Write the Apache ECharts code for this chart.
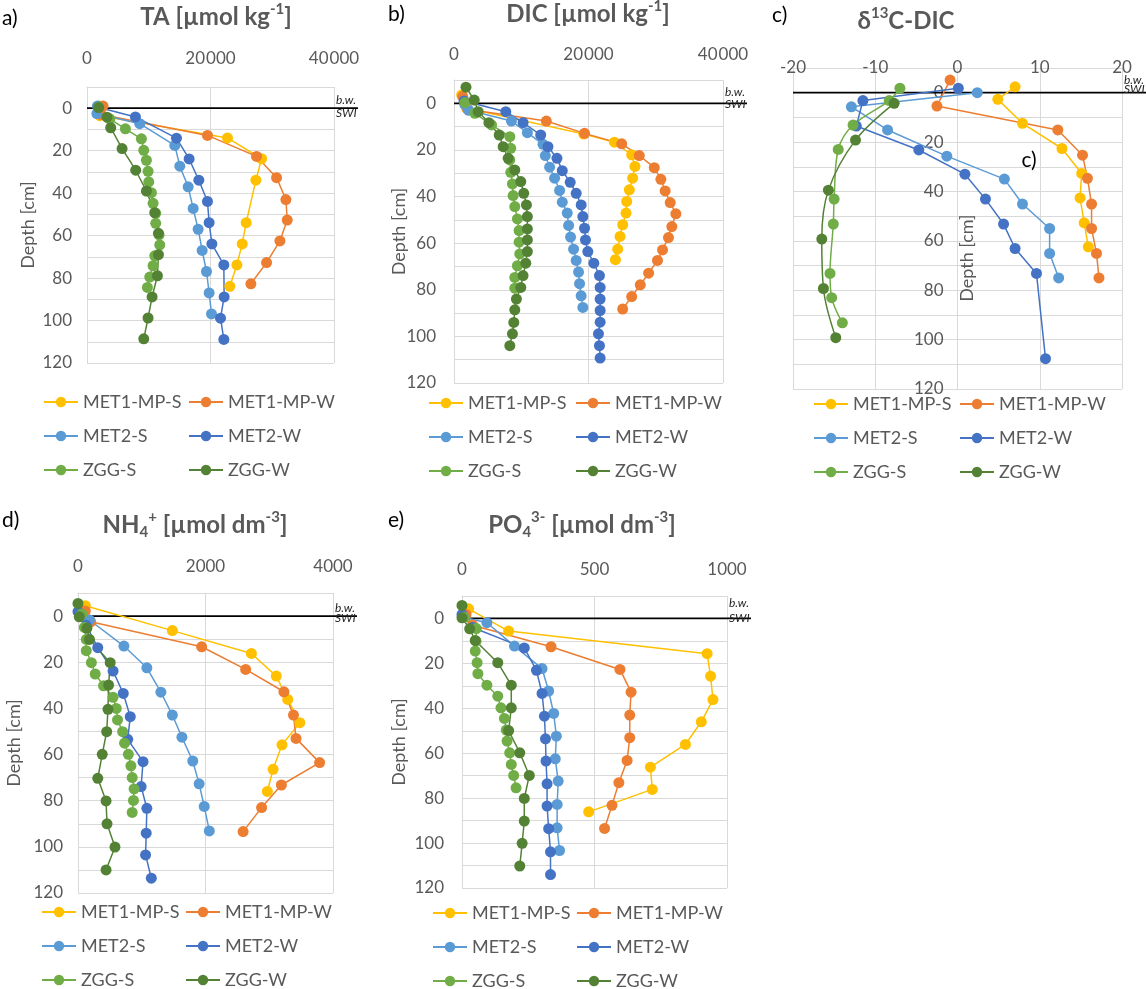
<!DOCTYPE html>
<html>
<head>
<meta charset="utf-8">
<title>Depth profiles</title>
<script src="https://cdn.jsdelivr.net/npm/echarts@6/dist/echarts.min.js"></script>
<style>
    html, body { margin: 0; padding: 0; background: #fff; }
    #main { width: 1146px; height: 989px; }
</style>
</head>
<body>
<div id="main"></div>
<script type="text/javascript">
var seriesNames = ['MET1-MP-S', 'MET1-MP-W', 'MET2-S', 'MET2-W', 'ZGG-S', 'ZGG-W'];
var seriesColors = ['#FFC000', '#ED7D31', '#5B9BD5', '#4472C4', '#70AD47', '#548235'];
var font = 'Lato';

// a) TA  [value, depth]
var taMet1S = [[2000, -1], [2100, 3.5], [22750, 14], [28270, 23.8], [27350, 33.9], [25780, 53.9], [25130, 63.9], [24270, 73.8], [23130, 83.9]];
var taMet1W = [[2600, -1], [2300, 3], [19510, 12.8], [27460, 22.7], [30700, 32.7], [32210, 43], [32430, 52.7], [31240, 62.5], [29080, 72.7], [26540, 82.7]];
var taMet2S = [[1700, -1], [1600, 2.5], [8540, 7.3], [14215, 17.5], [15030, 27.3], [16380, 37], [17190, 47.2], [18000, 57], [18650, 67], [19350, 76.9], [19780, 87], [20160, 96.9]];
var taMet2W = [[1800, -0.5], [7840, 4.1], [14490, 14.1], [16540, 23.9], [18110, 33.9], [19510, 43.9], [19780, 53.9], [20220, 63.9], [22160, 73.8], [22210, 88.9], [21620, 98.9], [22160, 108.9]];
var taZggS = [[1900, -0.5], [3680, 5], [6220, 9.7], [8810, 14.4], [9190, 19.8], [9620, 24.5], [9890, 29.7], [10000, 34.7], [10430, 39.8], [10700, 44.8], [11130, 49.5], [11130, 54.2], [11675, 59.7], [11780, 64.4], [10970, 69.5], [10700, 74.2], [10160, 79.5], [9780, 84.4]];
var taZggW = [[1890, -0.3], [3240, 4.2], [3840, 9.2], [5680, 19], [7890, 29.2], [9620, 39], [10970, 49.2], [11570, 58.9], [11570, 69], [11400, 78.9], [10540, 88.9], [9890, 98.8], [9190, 108.6]];

// b) DIC
var dicMet1S = [[1140, -3.6], [1900, 2.1], [19300, 13.2], [23850, 16.7], [26420, 22.1], [26910, 27.1], [26570, 32.1], [26070, 37.1], [25680, 42.1], [25580, 47.1], [25090, 52.1], [24690, 57.1], [24340, 62.6], [24000, 67.1]];
var dicMet1W = [[1300, -2.9], [2000, 2.5], [13730, 7.6], [19410, 12.9], [24940, 17.4], [27550, 22.4], [29780, 27.6], [30760, 32.6], [31400, 37.6], [32150, 42.6], [32990, 47.4], [32390, 52.9], [31890, 57.6], [31010, 62.9], [30260, 67.4], [28940, 72.9], [27700, 77.9], [26420, 82.9], [25080, 88.3]];
var dicMet2S = [[1600, 0.5], [2200, 3], [8540, 7.6], [10910, 12.6], [13230, 17.6], [13580, 22.4], [14220, 27.4], [14960, 32.1], [15700, 37.4], [16100, 42.4], [16840, 47.1], [17040, 52.4], [17330, 57.4], [17780, 62.6], [18170, 67.4], [18520, 72.4], [18670, 77.4], [18910, 82.6], [19160, 87.6]];
var dicMet2W = [[1500, -1], [7700, 3.6], [10270, 8.3], [12890, 13.6], [13970, 18.6], [15310, 23.6], [16100, 28.9], [17280, 33.9], [18170, 38.6], [18910, 43.6], [19160, 48.6], [19410, 53.6], [19550, 58.6], [19900, 63.6], [20790, 68.6], [21630, 73.9], [21730, 79], [21730, 84], [21730, 88.9], [21730, 93.9], [21480, 98.9], [21630, 104], [21730, 109.3]];
var dicZggS = [[1630, -0.3], [3110, 4.3], [5580, 9.3], [8300, 14.3], [8440, 19.3], [8300, 24.3], [8440, 29.6], [8690, 34.6], [8790, 39.6], [9040, 44.3], [9430, 49.6], [9680, 54.6], [9680, 59.6], [9780, 64.6], [9430, 69.7], [9040, 74.7], [9040, 79.3]];
var dicZggW = [[1780, -6.9], [3010, -1.4], [3600, 3.6], [5190, 8.3], [6720, 13.6], [7310, 18.6], [8050, 23.6], [9040, 28.6], [9930, 33.6], [10370, 38.6], [10770, 43.6], [10910, 48.6], [10910, 53.9], [10910, 58.6], [10910, 63.6], [10670, 68.6], [10270, 73.9], [9930, 79], [9280, 84], [9040, 88.6], [8890, 94], [8690, 98.9], [8300, 104]];

// c) d13C-DIC
var d13Met1S = [[7.0, -2.4], [4.9, 2.7], [7.9, 12.4], [12.7, 22.6], [15.1, 32.7], [14.9, 42.6], [15.4, 52.7], [15.9, 62.4]];
var d13Met1W = [[-0.9, -5.1], [-2.5, 5.4], [12.2, 15.1], [15.2, 25.3], [15.8, 34.7], [16.3, 45.1], [16.3, 55], [16.9, 65.1], [17.2, 75]];
var d13Met2S = [[2.4, 0], [-12.9, 5.7], [-8.5, 15.1], [-1.3, 25.7], [5.7, 35], [7.9, 45.1], [11.2, 55], [11.2, 65.1], [12.3, 75]];
var d13Met2W = [[0.1, -1.8], [-11.5, 3.2], [-12.3, 13.5], [-4.7, 23.2], [0.9, 33], [3.4, 43.1], [5.6, 53.2], [7.0, 63.1], [9.6, 73.2], [10.7, 107.7]];
var d13ZggS = [[-7.0, -1.8], [-8.3, 3.2], [-12.7, 13.1], [-14.5, 23], [-15.0, 43.1], [-15.1, 53.2], [-15.5, 73.2], [-15.3, 83], [-14.0, 93.2]];
var d13ZggW = [[-7.7, 4.3], [-12.4, 19.2], [-15.7, 39.5], [-16.5, 59.3], [-16.3, 79.3], [-14.8, 99.2]];

// d) NH4+
var nhMet1S = [[115, -4.5], [1480, 6.3], [2720, 16.2], [3110, 26], [3290, 36.1], [3480, 46.2], [3200, 55.8], [3060, 66.4], [2970, 76]];
var nhMet1W = [[115, -2.2], [200, 2.5], [1940, 13.3], [2630, 23.1], [3230, 32.8], [3380, 42.9], [3420, 53], [3790, 63.5], [3190, 73.2], [2880, 83], [2590, 93.4]];
var nhMet2S = [[30, -1], [180, 1.7], [720, 13], [1080, 22.4], [1300, 33], [1480, 42.9], [1630, 52.5], [1800, 62.8], [1900, 72.7], [1980, 82.5], [2060, 93.1]];
var nhMet2W = [[0, -1.9], [130, 4], [310, 13.7], [550, 23.8], [710, 33.5], [820, 43.6], [780, 53.4], [1020, 63.1], [990, 73.9], [1080, 83.3], [1070, 94.1], [1060, 103.5], [1150, 113.6]];
var nhZggS = [[60, -0.9], [100, 4.9], [130, 10.1], [130, 15], [210, 20.2], [270, 25.1], [400, 30.2], [550, 35.2], [600, 40], [620, 45], [700, 50.1], [730, 55.1], [790, 59.9], [830, 64.9], [850, 70], [880, 74.9], [870, 79.9], [850, 85.1]];
var nhZggW = [[0, -5.5], [20, 0.3], [140, 5.3], [180, 10.1], [505, 20.2], [480, 29.9], [470, 40.4], [450, 50.1], [380, 59.9], [310, 70.3], [440, 80.1], [455, 90], [580, 100.1], [440, 110]];

// e) PO4 3-
var poMet1S = [[25, -4.3], [176, 5.6], [925, 15.7], [938, 25.7], [947, 36.1], [903, 46], [843, 56.1], [711, 66.2], [718, 76.1], [478, 86.1]];
var poMet1W = [[15, -1.8], [40, 3], [336, 12.6], [596, 22.7], [638, 32.8], [633, 43], [633, 53.1], [623, 63.2], [592, 73.1], [566, 83.2], [538, 93.5]];
var poMet2S = [[5, -0.5], [94, 1.9], [198, 12.3], [302, 22.3], [327, 32.3], [346, 42.3], [356, 52.4], [352, 62.5], [363, 72.4], [359, 82.8], [359, 93.2], [368, 103.3]];
var poMet2W = [[0, -1.8], [40, 4], [235, 13.1], [281, 23.1], [302, 33.4], [311, 43.5], [315, 53.6], [317, 63.5], [321, 73.6], [321, 83.5], [327, 93.6], [334, 103.9], [334, 114]];
var poZggS = [[8, -0.5], [54, 4.5], [53, 10.1], [50, 14.5], [57, 19.7], [60, 24.6], [94, 29.7], [135, 34.6], [147, 39.8], [160, 44.5], [167, 49.7], [170, 54.6], [180, 59.8], [186, 65], [195, 69.9], [204, 75.4]];
var poZggW = [[0, -5.8], [0, -0.3], [29, 4.6], [50, 9.8], [135, 19.7], [186, 29.7], [186, 39.8], [176, 49.9], [218, 59.8], [254, 69.9], [235, 80.1], [235, 90.2], [227, 100.1], [218, 110.2]];

var panels = [
    {tag: 'a)', tagX: 2, tagY: 18, title: '{t|TA [µmol kg}{s|-1}{t|]}', titleX: 216, titleY: 17,
     lists: [taMet1S, taMet1W, taMet2S, taMet2W, taZggS, taZggW],
     xMin: 0, xMax: 40000, xStep: 20000, grid: {left: 87, top: 87, width: 247, height: 276},
     xMargin: 20, yMargin: 15, nameGap: 50, legX: [43, 188], legY: 402, bw: [-8, 5]},
    {tag: 'b)', tagX: 388, tagY: 14, title: '{t|DIC [µmol kg}{s|-1}{t|]}', titleX: 588, titleY: 14,
     lists: [dicMet1S, dicMet1W, dicMet2S, dicMet2W, dicZggS, dicZggW],
     xMin: 0, xMax: 40000, xStep: 20000, grid: {left: 454, top: 80, width: 269, height: 303},
     xMargin: 17, yMargin: 18, nameGap: 46, legX: [428, 575], legY: 403, bw: [-11, 1]},
    {tag: 'c)', tagX: 772, tagY: 15, title: '{t|δ}{s|13}{t|C-DIC}', titleX: 906, titleY: 21,
     lists: [d13Met1S, d13Met1W, d13Met2S, d13Met2W, d13ZggS, d13ZggW],
     xMin: -20, xMax: 20, xStep: 10, grid: {left: 793, top: 68, width: 329, height: 321},
     xMargin: -8, yMargin: 14, nameGap: 0, legX: [813, 959], legY: 404, bw: [-13, -4], axisInside: true},
    {tag: 'd)', tagX: 2, tagY: 520, title: '{t|NH}{b|4}{s|+}{t| [µmol dm}{s|-3}{t|]}', titleX: 195, titleY: 525,
     lists: [nhMet1S, nhMet1W, nhMet2S, nhMet2W, nhZggS, nhZggW],
     xMin: 0, xMax: 4000, xStep: 2000, grid: {left: 78, top: 593, width: 255, height: 300},
     xMargin: 18, yMargin: 15, nameGap: 55, legX: [41, 185], legY: 912, bw: [-7.5, 2]},
    {tag: 'e)', tagX: 388, tagY: 520, title: '{t|PO}{b|4}{s|3-}{t| [µmol dm}{s|-3}{t|]}', titleX: 582, titleY: 525,
     lists: [poMet1S, poMet1W, poMet2S, poMet2W, poZggS, poZggW],
     xMin: 0, xMax: 1000, xStep: 500, grid: {left: 462, top: 596, width: 265, height: 292},
     xMargin: 18, yMargin: 18, nameGap: 54, legX: [432, 576], legY: 913, bw: [-15, 0]}
];

var chart = echarts.init(document.getElementById('main'));
var grids = [], xAxes = [], yAxes = [], series = [], legends = [];

panels.forEach(function (p, i) {
    grids.push({left: p.grid.left, top: p.grid.top, width: p.grid.width, height: p.grid.height});
    xAxes.push({
        type: 'value', gridIndex: i, position: 'top',
        min: p.xMin, max: p.xMax, interval: p.xStep,
        axisLine: {show: true, onZero: false, lineStyle: {color: '#D9D9D9'}},
        axisTick: {show: false},
        splitLine: {show: true, lineStyle: {color: '#D9D9D9'}},
        axisLabel: {
            margin: p.xMargin, fontSize: 17, color: '#595959', fontFamily: font,
            formatter: function (v) {
                return v >= 10000 ? String(v).replace(/(\d)(?=(\d{3})+$)/, '$1\u200A') : String(v);
            }
        }
    });
    // in c) the depth axis sits on value 0, in the middle of the plot
    var yOffset = p.axisInside ? -p.grid.width * (0 - p.xMin) / (p.xMax - p.xMin) : 0;
    yAxes.push({
        type: 'value', gridIndex: i, inverse: true,
        min: -10, max: 120, interval: 10, offset: yOffset,
        axisLine: {show: true, onZero: false, lineStyle: {color: '#D9D9D9'}},
        axisTick: {show: false},
        splitLine: {show: true, lineStyle: {color: '#D9D9D9'}},
        axisLabel: {
            margin: p.yMargin, fontSize: 17, color: '#595959', fontFamily: font,
            formatter: function (v) { return (v >= 0 && v % 20 === 0) ? v : ''; }
        },
        name: p.axisInside ? '' : 'Depth [cm]', nameLocation: 'middle', nameGap: p.nameGap,
        nameMoveOverlap: false,
        nameTextStyle: {fontSize: 18, color: '#595959', fontFamily: font}
    });
    p.lists.forEach(function (list, k) {
        series.push({
            type: 'line', name: seriesNames[k], xAxisIndex: i, yAxisIndex: i,
            data: list, symbol: 'circle', symbolSize: 11,
            smooth: (p.axisInside && k >= 4) ? 0.35 : false,
            clip: false,
            lineStyle: {width: 1.5, color: seriesColors[k]},
            itemStyle: {color: seriesColors[k]},
            emphasis: {disabled: true}
        });
    });
    [0, 1].forEach(function (c) {
        legends.push({
            orient: 'vertical', left: p.legX[c], top: p.legY - 9, height: 110, padding: 0,
            itemWidth: 34, itemHeight: 13, itemGap: 16,
            selectedMode: false,
            data: [seriesNames[c], seriesNames[c + 2], seriesNames[c + 4]],
            textStyle: {fontSize: 18, color: '#595959', fontFamily: font, lineHeight: 18}
        });
    });
});

chart.setOption({
    animation: false,
    grid: grids,
    xAxis: xAxes,
    yAxis: yAxes,
    legend: legends,
    series: series
});

// titles, panel tags, zero line with b.w. / SWI marks
var titleRich = {
    t: {fontSize: 24, fontWeight: 'bold', fill: '#595959', fontFamily: font, lineHeight: 30},
    s: {fontSize: 15, fontWeight: 'bold', fill: '#595959', fontFamily: font, verticalAlign: 'top', lineHeight: 30},
    b: {fontSize: 15, fontWeight: 'bold', fill: '#595959', fontFamily: font, verticalAlign: 'bottom', lineHeight: 26}
};
var extra = [];
panels.forEach(function (p, i) {
    extra.push({type: 'text', x: p.titleX, y: p.titleY, z: 10,
        style: {text: p.title, rich: titleRich, align: 'center', verticalAlign: 'middle'}});
    extra.push({type: 'text', x: p.tagX, y: p.tagY, z: 10,
        style: {text: p.tag, fontSize: 21, fill: '#000', fontFamily: font, verticalAlign: 'middle'}});
    var l = chart.convertToPixel({gridIndex: i}, [p.xMin, 0]);
    var r = chart.convertToPixel({gridIndex: i}, [p.xMax, 0]);
    extra.push({type: 'line', z: 1, shape: {x1: l[0], y1: l[1], x2: r[0] + 24, y2: r[1]},
        style: {stroke: '#000', lineWidth: 1.75}});
    extra.push({type: 'text', x: r[0] + 2, y: r[1] + p.bw[0], z: 10,
        style: {text: 'b.w.', fontSize: 12, fontStyle: 'italic', fill: '#262626', fontFamily: font, verticalAlign: 'middle'}});
    extra.push({type: 'text', x: r[0] + 2, y: r[1] + p.bw[1], z: 10,
        style: {text: 'SWI', fontSize: 12, fontStyle: 'italic', fill: '#262626', fontFamily: font, verticalAlign: 'middle'}});
});
// c): depth title to the right of the zero axis, and the stray panel mark
var cName = chart.convertToPixel({gridIndex: 2}, [0, 67]);
extra.push({type: 'text', x: cName[0] + 10, y: cName[1], rotation: Math.PI / 2, z: 10,
    style: {text: 'Depth [cm]', fontSize: 18, fill: '#595959', fontFamily: font, align: 'center', verticalAlign: 'middle'}});
var cMark = chart.convertToPixel({gridIndex: 2}, [8.7, 27.2]);
extra.push({type: 'text', x: cMark[0], y: cMark[1], z: 10,
    style: {text: 'c)', fontSize: 21, fill: '#000', fontFamily: font, align: 'center', verticalAlign: 'middle'}});

chart.setOption({graphic: extra});
</script>
</body>
</html>
